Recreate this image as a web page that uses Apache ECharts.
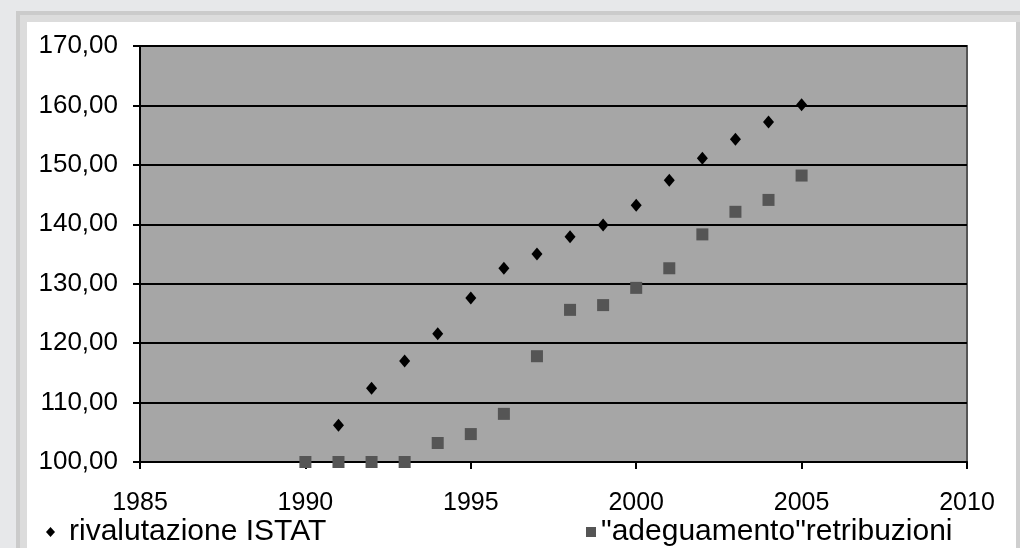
<!DOCTYPE html>
<html><head><meta charset="utf-8">
<script src="https://cdn.jsdelivr.net/npm/echarts@6/dist/echarts.min.js"></script>
<style>html,body{margin:0;padding:0;background:#e7e8ea;}#c{width:1020px;height:548px;}</style>
</head><body><div id="c"></div>
<script>
const yearsIstat = [1991,1992,1993,1994,1995,1996,1997,1998,1999,2000,2001,2002,2003,2004,2005];
const valuesIstat = [106.2,112.4,117.0,121.6,127.6,132.6,135.0,137.9,139.9,143.2,147.4,151.1,154.3,157.2,160.1];
const yearsRetr = [1990,1991,1992,1993,1994,1995,1996,1997,1998,1999,2000,2001,2002,2003,2004,2005];
const valuesRetr = [100,100,100,100,103.2,104.7,108.1,117.8,125.6,126.4,129.3,132.6,138.3,142.1,144.1,148.2];
const nameIstat = 'rivalutazione ISTAT';
const nameRetr = '"adeguamento"retribuzioni';

const chart = echarts.init(document.getElementById('c'), null, {renderer:'canvas'});
const font = 'Liberation Sans, Arial, sans-serif';
chart.setOption({
  backgroundColor: '#e7e8ea',
  animation: false,
  textStyle: {fontFamily: font},
  graphic: [
    {type:'rect', shape:{x:16,y:11,width:1010,height:560}, style:{fill:'#cbcbcb'}, z:-10},
    {type:'rect', shape:{x:20,y:15,width:1000,height:560}, style:{fill:'#dcdcdc'}, z:-10},
    {type:'rect', shape:{x:27,y:22,width:989,height:560}, style:{fill:'#ffffff'}, z:-10},
    {type:'rect', shape:{x:1016,y:22,width:4,height:560}, style:{fill:'#cfcfcf'}, z:-10}
  ],
  grid: {left:140, top:46, right:53, bottom:86, show:true, backgroundColor:'#a6a6a6', borderColor:'#555555', borderWidth:2},
  xAxis: {
    type:'value', min:1985, max:2010, interval:5,
    axisLine:{show:true, onZero:false, lineStyle:{color:'#000', width:2}},
    axisTick:{show:true, length:7, lineStyle:{color:'#000', width:2}},
    axisLabel:{color:'#000', fontSize:25, fontFamily:font, margin:29, formatter: v => String(v)},
    splitLine:{show:false}
  },
  yAxis: {
    type:'value', min:100, max:170, interval:10,
    axisLine:{show:true, lineStyle:{color:'#000', width:2}},
    axisTick:{show:true, length:7, lineStyle:{color:'#000', width:2}},
    axisLabel:{color:'#000', fontSize:26, fontFamily:font, margin:22,
      formatter: v => v.toFixed(2).replace('.', ',')},
    splitLine:{show:true, lineStyle:{color:'#000', width:2}}
  },
  legend: [
    {data:[nameIstat], left:41, top:512, itemWidth:9, itemHeight:10, itemGap:6,
     textStyle:{color:'#000', fontSize:30, fontFamily:font, padding:[0,0,0,9]}},
    {data:[nameRetr], left:581, top:512, itemWidth:10, itemHeight:10, itemGap:4,
     textStyle:{color:'#000', fontSize:30, fontFamily:font}}
  ],
  series: [
    {name:nameIstat, type:'scatter', symbol:'diamond', symbolSize:[11,13],
     itemStyle:{color:'#000', opacity:1},
     data: yearsIstat.map((y,i)=>[y, valuesIstat[i]]), z:5},
    {name:nameRetr, type:'scatter', symbol:'rect', symbolSize:12,
     itemStyle:{color:'#555555', opacity:1},
     data: yearsRetr.map((y,i)=>[y, valuesRetr[i]]), z:4}
  ]
});
</script></body></html>
